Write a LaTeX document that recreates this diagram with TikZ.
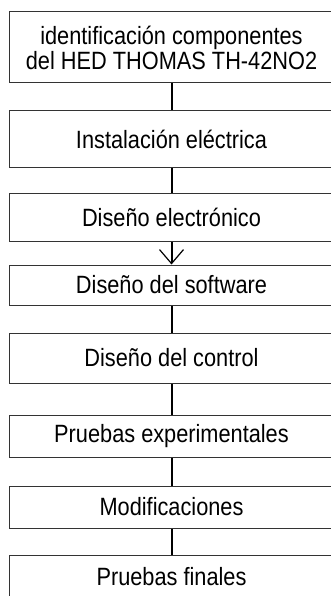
\documentclass[tikz,border=0pt]{standalone}
\usepackage{fontspec}
\newfontfamily\boxfont[FakeStretch=0.87]{Liberation Sans}
\usetikzlibrary{arrows.meta}
\pgfdeclarelayer{bg}
\pgfsetlayers{bg,main}
\begin{document}
\begin{tikzpicture}[x=1pt,y=-1pt,
  box/.style={draw=black!80, line width=1pt, fill=white, minimum width=325pt,
    inner sep=0pt, font=\boxfont\fontsize{25}{25}\selectfont, align=center, text=black},
  conn/.style={line width=2pt, draw=black},
  tip/.style={-{Straight Barb[length=14pt,width=24pt,line width=1.2pt]}}]
\useasboundingbox (0,0) rectangle (331,596);
\clip (0,0) rectangle (331,596);
\node[box, minimum height=71pt] (b1) at (171.5,47.5) {identificación componentes\\del HED THOMAS TH-42NO2};
\node[box, minimum height=56pt] (b2) at (171.5,139) {Instalación eléctrica};
\node[box, minimum height=48pt] (b3) at (171.5,217) {Diseño electrónico};
\node[box, minimum height=40pt] (b4) at (171.5,285) {Diseño del software};
\node[box, minimum height=50pt] (b5) at (171.5,358) {Diseño del control};
\node[box, minimum height=42pt] (b6) at (171.5,436) {Pruebas experimentales};
\node[box, minimum height=42pt] (b7) at (171.5,507) {Modificaciones};
\node[box, minimum height=43pt] (b8) at (171.5,576.5) {Pruebas finales};
\begin{pgfonlayer}{bg}
\draw[conn, tip] (b1.south) -- ([yshift=-17pt]b2.north);
\draw[conn, tip] (b2.south) -- ([yshift=-17pt]b3.north);
\draw[conn, tip] (b3.south) -- (b4.north);
\draw[conn, tip] (b4.south) -- ([yshift=-17pt]b5.north);
\draw[conn] (b5.south) -- (b6.north);
\draw[conn, tip] (b6.south) -- ([yshift=-17pt]b7.north);
\draw[conn] (b7.south) -- (b8.north);
\end{pgfonlayer}
\end{tikzpicture}
\end{document}
